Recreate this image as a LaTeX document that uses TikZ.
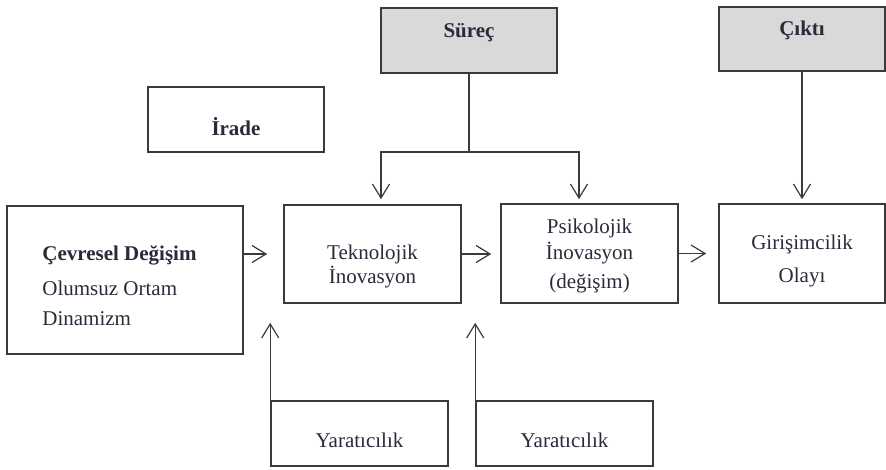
\documentclass[tikz,border=0pt]{standalone}
\usepackage{fontspec}
\setmainfont{Liberation Serif}
\usetikzlibrary{arrows.meta}
\definecolor{edge}{HTML}{3A3A3A}
\definecolor{shade}{HTML}{D9D9D9}
\definecolor{ink}{HTML}{2A2A3A}
\begin{document}
\begin{tikzpicture}[x=1pt,y=-1pt,
  box/.style={draw=edge,line width=1.6pt,inner sep=0pt,minimum width=#1},
  box/.default=177pt,
  grey/.style={fill=shade},
  txt/.style={text=ink,inner sep=0pt,align=center,font=\fontsize{21}{25}\selectfont},
  conn/.style={draw=edge,line width=1.2pt},
  arr/.style={conn,-{Straight Barb[length=14pt,width=17pt,line width=1.2pt]}}
]
\useasboundingbox (0,0) rectangle (886,470);

% boxes
\node[box=176pt,minimum height=65pt,label={[txt,yshift=-7pt]center:\textbf{İrade}}] (ira) at (236,119.5) {};
\node[box=176pt,grey,minimum height=65pt,label={[txt,yshift=8pt]center:\textbf{Süreç}}] (sur) at (469,40.5) {};
\node[box=166pt,grey,minimum height=64pt,label={[txt,yshift=9pt]center:\textbf{Çıktı}}] (cik) at (802,39) {};
\node[box=236pt,minimum height=148pt,
  label={[txt,align=left,anchor=west,xshift=36pt,yshift=-5.5pt]west:\textbf{Çevresel Değişim}\\[10pt]Olumsuz Ortam\\[5pt]Dinamizm}] (cev) at (125,280) {};
\node[box,minimum height=98pt,label={[txt,yshift=-12pt]center:Teknolojik\\[-1pt]İnovasyon}] (tek) at (372.5,254) {};
\node[box,minimum height=99pt,label={[txt,yshift=-2pt]center:Psikolojik\\[1pt]İnovasyon\\[4pt](değişim)}] (psi) at (589.5,253.5) {};
\node[box=166pt,minimum height=99pt,label={[txt,yshift=-7pt]center:Girişimcilik\\[8pt]Olayı}] (gir) at (802,253.5) {};
\node[box,minimum height=65pt,label={[txt,yshift=-7pt]center:Yaratıcılık}] (yr1) at (359.5,433.5) {};
\node[box,minimum height=65pt,label={[txt,yshift=-7pt]center:Yaratıcılık}] (yr2) at (564.5,433.5) {};

% branch points under the process box
\coordinate (jn) at (469,152);
\coordinate (jl) at (381,152);
\coordinate (jr) at (579,152);

% connectors
\draw[conn] (sur.south) -- (jn);
\draw[arr,shorten >=5pt] (jn) -- (jl) -- (jl |- tek.north);
\draw[arr,shorten >=4pt] (jn) -- (jr) -- (jr |- psi.north);
\draw[arr,shorten >=4pt] (cik.south) -- (gir.north);

\draw[arr,shorten >=16pt] (tek.west -| cev.east) -- (tek.west);
\draw[arr,shorten >=9pt] (tek.east) -- (tek.east -| psi.west);
\draw[arr,shorten >=12pt] (psi.east) -- (psi.east -| gir.west);

\draw[arr,shorten >=19pt] (yr1.north west) -- (yr1.north west |- tek.south);
\draw[arr,shorten >=19pt] (yr2.north west) -- (yr2.north west |- psi.south);
\end{tikzpicture}
\end{document}
